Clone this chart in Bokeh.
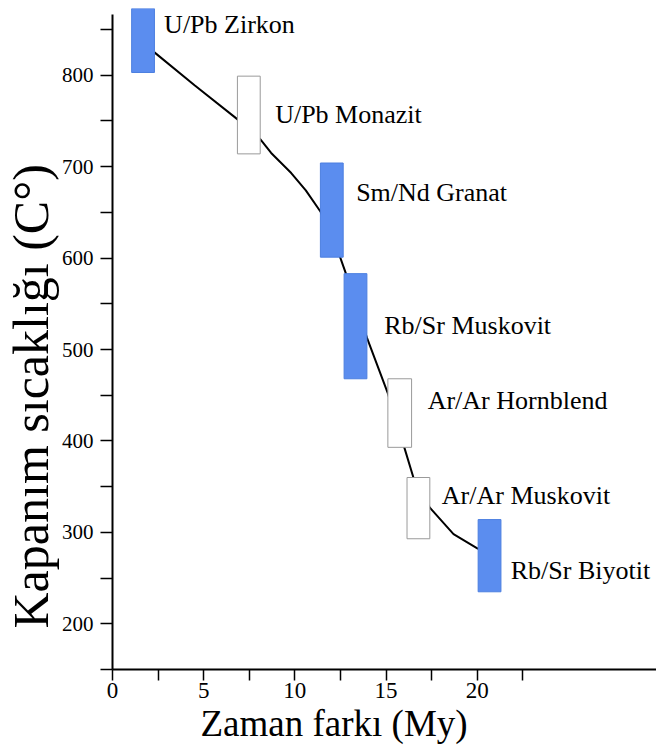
from bokeh.plotting import figure
from bokeh.models import (LinearAxis, FixedTicker, Range1d, ColumnDataSource,
                          LabelSet, Title)
from bokeh.embed import file_html
from bokeh.resources import INLINE

# ---- data ----
methods = ["U/Pb Zirkon", "U/Pb Monazit", "Sm/Nd Granat", "Rb/Sr Muskovit",
           "Ar/Ar Hornblend", "Ar/Ar Muskovit", "Rb/Sr Biyotit"]
box_left = [1.05, 6.85, 11.4, 12.7, 15.1, 16.15, 20.05]
box_right = [2.3, 8.1, 12.65, 13.95, 16.4, 17.4, 21.3]
box_bottom = [803, 714, 601, 468, 393, 293, 235]
box_top = [873, 799, 704, 583, 468, 360, 314]
filled = [True, False, True, True, False, False, True]
label_x = [2.83, 8.92, 13.36, 14.9, 17.28, 18.06, 21.84]
label_y = [855, 757, 672, 526, 444, 340, 258]

curve_time = [2.3, 4.5, 6.84, 8.1, 8.7, 9.8, 10.6, 11.4, 12.5, 12.8, 13.95,
              15.1, 16.0, 16.5, 17.4, 18.7, 20.05]
curve_temp = [825, 789, 752, 730, 715, 693, 674, 651, 600, 583, 513,
              452, 393, 360, 327, 298, 282]

x_major = [0, 5, 10, 15, 20]
x_minor = [2.5, 7.5, 12.5, 17.5, 22.5]
y_major = [200, 300, 400, 500, 600, 700, 800]
y_minor = [150, 250, 350, 450, 550, 650, 750, 850]

x_title = "Zaman farkı (My)"
y_title = "Kapanım sıcaklığı (C°)"

BLUE = "#5B8DEF"
FONT = "'Liberation Serif', 'Times New Roman', serif"

p = figure(width=656, height=751, output_backend="svg", toolbar_location=None,
           x_range=Range1d(0, 29.83), y_range=Range1d(150, 873),
           x_axis_type=None, y_axis_type=None,
           min_border_left=111, min_border_right=0, min_border_top=8,
           min_border_bottom=82)
p.outline_line_color = None
p.background_fill_color = "white"
p.border_fill_color = "white"

# x axis
xa = LinearAxis(ticker=FixedTicker(ticks=x_major, minor_ticks=x_minor))
xa.axis_line_width = 2
xa.major_tick_out = 11
xa.major_tick_in = 0
xa.minor_tick_out = 11
xa.minor_tick_in = 0
xa.major_tick_line_width = 1.5
xa.minor_tick_line_width = 1.5
xa.major_label_standoff = 2
xa.major_label_text_font = FONT
xa.major_label_text_font_size = "23px"
xa.major_label_text_color = "black"
p.add_layout(xa, "below")

# y axis
ya = LinearAxis(ticker=FixedTicker(ticks=y_major, minor_ticks=y_minor),
                bounds=(150, 866))
ya.axis_line_width = 2
ya.major_tick_out = 12
ya.major_tick_in = 0
ya.minor_tick_out = 12
ya.minor_tick_in = 0
ya.major_tick_line_width = 1.5
ya.minor_tick_line_width = 1.5
ya.major_label_standoff = 7
ya.major_label_text_font = FONT
ya.major_label_text_font_size = "21px"
ya.major_label_text_color = "black"
p.add_layout(ya, "left")

# axis titles (off-centre as in the reference)
p.add_layout(Title(text=x_title, align="left", offset=88, text_font=FONT,
                   text_font_size="37px", text_font_style="normal",
                   text_color="black", standoff=0), "below")
p.add_layout(Title(text=y_title, align="left", offset=41, text_font=FONT,
                   text_font_size="50px", text_font_style="normal",
                   text_color="black", standoff=0), "left")

# cooling curve
p.line(curve_time, curve_temp, line_color="black", line_width=2)

# boxes
src = ColumnDataSource(dict(
    left=box_left, right=box_right, bottom=box_bottom, top=box_top,
    fill=[BLUE if f else "white" for f in filled],
    edge=["#4C7FE0" if f else "#9a9a9a" for f in filled],
))
p.quad(left="left", right="right", bottom="bottom", top="top", source=src,
       fill_color="fill", line_color="edge", line_width=1)

# labels
lsrc = ColumnDataSource(dict(x=label_x, y=label_y, text=methods))
p.add_layout(LabelSet(x="x", y="y", text="text", source=lsrc, text_font=FONT,
                      text_font_size="26px", text_baseline="middle",
                      text_align="left", text_color="black"))

open("out.html", "w").write(file_html(p, INLINE))
